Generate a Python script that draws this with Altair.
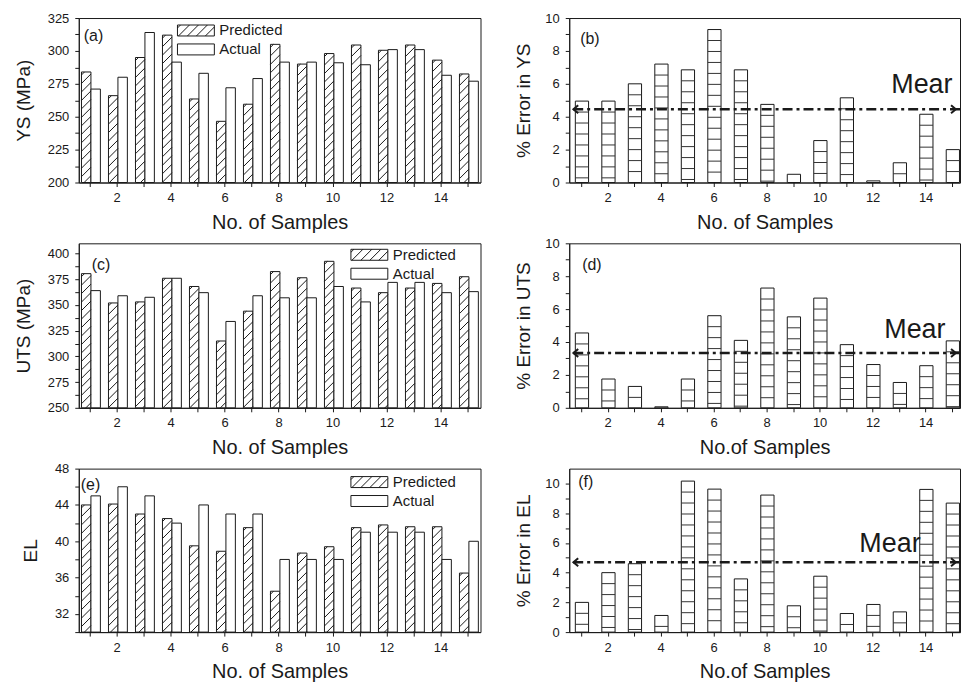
import altair as alt
import pandas as pd

# ---------------- data ----------------
samples = list(range(1, 16))

ys_pred = [284, 266, 295, 312, 263.5, 246.5, 259.5, 305, 290, 298, 304.5, 300.5, 304.5, 293, 282.5]
ys_act = [271, 280, 314, 291.5, 283, 272, 279, 291.5, 291.5, 291, 289.5, 301, 301, 281.5, 277]

uts_pred = [380.5, 352, 353, 376, 368, 315, 344, 382.5, 376.5, 392.5, 366.5, 362, 366.5, 371, 377.5]
uts_act = [364, 359, 357.5, 376, 362, 334, 359, 357, 357, 368, 353, 372, 372, 362, 363]

el_pred = [44.0, 44.1, 43.0, 42.5, 39.5, 38.9, 41.5, 34.5, 38.7, 39.4, 41.5, 41.8, 41.6, 41.6, 36.5]
el_act = [45, 46, 45, 42, 44, 43, 43, 38, 38, 38, 41, 41, 41, 38, 40]

err_ys = [4.95, 4.95, 6.0, 7.2, 6.85, 9.3, 6.85, 4.75, 0.5, 2.55, 5.15, 0.1, 1.2, 4.15, 2.0]
err_uts = [4.55, 1.75, 1.3, 0.06, 1.75, 5.6, 4.1, 7.28, 5.53, 6.67, 3.84, 2.63, 1.54, 2.56, 4.07]
err_el = [2.0, 4.0, 4.6, 1.12, 10.16, 9.62, 3.58, 9.22, 1.77, 3.76, 1.25, 1.86, 1.36, 9.6, 8.68]

mean_err = [4.46, 3.33, 4.7]

# ---------------- styling ----------------
FONT = "Liberation Sans"
INK = "#1a1a1a"
W_L, W_R = 403, 392
XL = (0.6, 15.48)
XR = (0.55, 15.3)


def frame(xdom, ydom, W, H):
    kx = W / (xdom[1] - xdom[0])
    ky = H / (ydom[1] - ydom[0])
    return kx, ky, (lambda d: xdom[0] + d / kx), (lambda d: ydom[1] - d / ky)


def diag_lines(xa, xb, y0, y1, kx, ky, spacing):
    """45-degree hatch segments inside a rectangle given in data units."""
    W = (xb - xa) * kx
    H = (y1 - y0) * ky
    rows = []
    c = H - 3
    while c > -W:
        X0 = max(0.0, -c)
        X1 = min(W, H - c)
        if X1 > X0 + 0.5:
            rows.append(dict(x=xa + X0 / kx, x2=xa + X1 / kx,
                             y=y0 + (X0 + c) / ky, y2=y0 + (X1 + c) / ky))
        c -= spacing
    return rows


def xaxis(title):
    return alt.Axis(values=samples, title=title,
                    labelExpr="datum.value % 2 == 0 ? datum.label : ''")


def enc(xs, ys, xax, yax):
    return dict(x=alt.X("x:Q", scale=xs, axis=xax), y=alt.Y("y:Q", scale=ys, axis=yax))


def text_layer(rows, xs, ys, xax, yax, size, baseline="middle"):
    return alt.Chart(pd.DataFrame(rows)).mark_text(
        align="left", baseline=baseline, font=FONT, fontSize=size, color=INK
    ).encode(text="t:N", **enc(xs, ys, xax, yax))


def value_panel(pred, act, ydom, yvals, lexpr, ytitle, tag, tag_xy, leg_xy, H, xtitle):
    kx, ky, px, py = frame(XL, ydom, W_L, H)
    base = ydom[0]
    xs = alt.Scale(domain=list(XL), nice=False, zero=False)
    ys = alt.Scale(domain=list(ydom), nice=False, zero=False)
    xax = xaxis(xtitle)
    yax = alt.Axis(values=yvals, labelExpr=lexpr, title=ytitle, titlePadding=14)
    bars, hatch = [], []
    for s, p, a in zip(samples, pred, act):
        bars.append(dict(x=s - 0.30, x2=s + 0.05, y=p, y2=base))
        bars.append(dict(x=s + 0.05, x2=s + 0.40, y=a, y2=base))
        hatch += diag_lines(s - 0.30, s + 0.05, base, p, kx, ky, 8.5)
    # legend swatches
    lx, ly = leg_xy
    sw, sh, gap = 37, 11, 19
    for k in range(2):
        bars.append(dict(x=px(lx), x2=px(lx + sw), y=py(ly + k * gap), y2=py(ly + k * gap + sh)))
    hatch += diag_lines(px(lx), px(lx + sw), py(ly + sh), py(ly), kx, ky, 9)
    leg_text = [dict(x=px(lx + sw + 5), y=py(ly + sh / 2), t="Predicted"),
                dict(x=px(lx + sw + 5), y=py(ly + gap + sh / 2), t="Actual")]

    bar_layer = alt.Chart(pd.DataFrame(bars)).mark_rect(
        fill="white", stroke=INK, strokeWidth=1
    ).encode(x2="x2:Q", y2="y2:Q", **enc(xs, ys, xax, yax))
    hatch_layer = alt.Chart(pd.DataFrame(hatch)).mark_rule(
        stroke=INK, strokeWidth=1
    ).encode(x2="x2:Q", y2="y2:Q", **enc(xs, ys, xax, yax))
    tag_layer = text_layer([dict(x=px(tag_xy[0]), y=py(tag_xy[1]), t=tag)], xs, ys, xax, yax, 16)
    leg_layer = text_layer(leg_text, xs, ys, xax, yax, 15)
    return alt.layer(bar_layer, hatch_layer, leg_layer, tag_layer).properties(width=W_L, height=H)


def error_panel(err, mean, ydom, ytitle, tag, tag_xy, mear_xy, H, xtitle):
    kx, ky, px, py = frame(XR, ydom, W_R, H)
    xs = alt.Scale(domain=list(XR), nice=False, zero=False)
    ys = alt.Scale(domain=list(ydom), nice=False, zero=False)
    xax = xaxis(xtitle)
    yax = alt.Axis(values=list(range(0, 11)),
                   labelExpr="datum.value % 2 == 0 ? datum.label : ''",
                   title=ytitle, titlePadding=11)
    step = 11 / ky
    bars, lines = [], []
    for s, v in zip(samples, err):
        bars.append(dict(x=s - 0.22, x2=s + 0.28, y=v, y2=0))
        k = 1
        while v - k * step > 0.03:
            lines.append(dict(x=s - 0.22, x2=s + 0.28, y=v - k * step))
            k += 1
    bar_layer = alt.Chart(pd.DataFrame(bars)).mark_rect(
        fill="white", stroke=INK, strokeWidth=1
    ).encode(x2="x2:Q", y2="y2:Q", **enc(xs, ys, xax, yax))
    line_layer = alt.Chart(pd.DataFrame(lines)).mark_rule(
        stroke="#333333", strokeWidth=1
    ).encode(x2="x2:Q", **enc(xs, ys, xax, yax))
    mean_layer = alt.Chart(pd.DataFrame({"y": [mean]})).mark_rule(
        color=INK, strokeWidth=2.5, strokeDash=[10, 4, 3, 4]
    ).encode(y=alt.Y("y:Q", scale=ys, axis=yax))
    arr_l = alt.Chart(pd.DataFrame({"x": [px(5)], "y": [mean]})).mark_point(
        shape="M1,-1L-0.2,0L1,1", size=64, filled=False, strokeWidth=2, color=INK, opacity=1
    ).encode(**enc(xs, ys, xax, yax))
    arr_r = alt.Chart(pd.DataFrame({"x": [px(W_R - 5)], "y": [mean]})).mark_point(
        shape="M-1,-1L0.2,0L-1,1", size=64, filled=False, strokeWidth=2, color=INK, opacity=1
    ).encode(**enc(xs, ys, xax, yax))
    mear = text_layer([dict(x=px(mear_xy[0]), y=py(mear_xy[1]), t="Mear")], xs, ys, xax, yax, 27,
                      baseline="alphabetic")
    tag_layer = text_layer([dict(x=px(tag_xy[0]), y=py(tag_xy[1]), t=tag)], xs, ys, xax, yax, 16)
    return alt.layer(bar_layer, line_layer, mean_layer, arr_l, arr_r, mear, tag_layer).properties(
        width=W_R, height=H)


pa = value_panel(ys_pred, ys_act, (200, 325), [200 + 12.5 * i for i in range(11)],
                 "datum.value % 25 == 0 ? datum.label : ''", "YS (MPa)", "(a)", (5, 18),
                 (99, 7), 165, "No. of Samples")
pb = error_panel(err_ys, mean_err[0], (0, 10), "% Error in YS", "(b)", (11, 21), (323, 75), 165,
                 "No. of Samples")
pc = value_panel(uts_pred, uts_act, (250, 410), [250 + 12.5 * i for i in range(13)],
                 "datum.value % 25 == 0 ? datum.label : ''", "UTS (MPa)", "(c)", (13, 22),
                 (273, 6), 165, "No. of Samples")
pd_ = error_panel(err_uts, mean_err[1], (0, 10), "% Error in UTS", "(d)", (13, 22), (316, 95), 165,
                  "No.of Samples")
pe = value_panel(el_pred, el_act, (30, 48), list(range(30, 49, 2)),
                 "(datum.value - 32) % 4 == 0 ? datum.label : ''", "EL", "(e)", (2, 16),
                 (273, 8), 164, "No. of Samples")
pf = error_panel(err_el, mean_err[2], (0, 11), "% Error in EL", "(f)", (9, 13), (291, 84), 164,
                 "No.of Samples")

chart = alt.concat(
    pa, pb, pc, pd_, pe, pf, columns=2,
    spacing={"row": 61, "column": 89}, bounds="flush"
).properties(
    padding={"left": 5, "top": 2, "right": 0, "bottom": 0}
).configure_view(
    stroke=INK, strokeWidth=1
).configure_axis(
    labelFont=FONT, titleFont=FONT, labelFontSize=13, titleFontSize=20,
    titleFontWeight="normal", labelColor=INK, titleColor=INK, domainColor=INK,
    tickColor=INK, tickSize=4, labelPadding=6, grid=False, labelOverlap=False,
    labelFlush=False
).configure_axisX(
    titlePadding=8, labelPadding=5
).configure_axisY(
    titleFontSize=19
)

chart.save("out.html", embed_options={"renderer": "svg", "actions": False})
